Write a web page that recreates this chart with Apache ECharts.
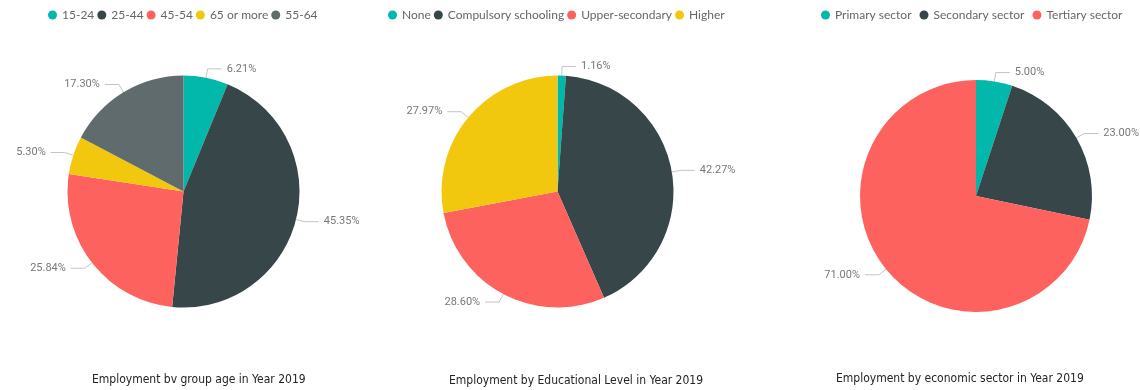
<!DOCTYPE html>
<html>
<head>
<meta charset="utf-8">
<script src="https://cdn.jsdelivr.net/npm/echarts@6/dist/echarts.min.js"></script>
<style>
  html, body { margin: 0; padding: 0; background: #ffffff; }
  #chart { width: 1140px; height: 390px; }
</style>
</head>
<body>
<div id="chart"></div>
<script>
// Employment shares, 2019
const ageGroups = ['15-24', '25-44', '45-54', '65 or more', '55-64'];
const ageShares = [6.21, 45.35, 25.84, 5.30, 17.30];

const educationLevels = ['None', 'Compulsory schooling', 'Upper-secondary', 'Higher'];
const educationShares = [1.16, 42.27, 28.60, 27.97];

const sectors = ['Primary sector', 'Secondary sector', 'Tertiary sector'];
const sectorShares = [5.00, 23.00, 71.00];

const titles = [
  'Employment bv group age in Year 2019',
  'Employment by Educational Level in Year 2019',
  'Employment by economic sector in Year 2019'
];

const palette = ['#01B8AA', '#374649', '#FD625E', '#F2C80F', '#5F6B6D'];
const sectorPalette = ['#01B8AA', '#374649', '#FD625E'];

function toData(names, values, colors) {
  return names.map((n, i) => ({ name: n, value: values[i], itemStyle: { color: colors[i] } }));
}

function pieSeries(names, values, colors, center) {
  return {
    type: 'pie',
    center: center,
    radius: 116,
    startAngle: 90,
    clockwise: true,
    avoidLabelOverlap: true,
    data: toData(names, values, colors),
    label: {
      show: true,
      position: 'outside',
      overflow: 'none',
      color: '#787878',
      fontFamily: 'Roboto',
      fontSize: 11,
      formatter: p => p.value.toFixed(2) + '%'
    },
    labelLine: {
      show: true,
      length: 9,
      length2: 14,
      lineStyle: { color: '#c4c4c4', width: 1 }
    },
    emphasis: { disabled: true }
  };
}

const legendText = { color: '#666666', fontFamily: 'Lato', fontSize: 12 };

const option = {
  backgroundColor: '#ffffff',
  animation: false,
  title: [
    { text: titles[0], left: 92, top: 374 },
    { text: titles[1], left: 449, top: 375 },
    { text: titles[2], left: 836, top: 373 }
  ].map(t => Object.assign(t, {
    padding: 0,
    textStyle: {
      fontFamily: "'DejaVu Sans Condensed', 'Liberation Sans Narrow', 'Liberation Sans', sans-serif",
      fontSize: 12,
      fontWeight: 'normal',
      color: '#252423'
    }
  })),
  legend: [
    { data: ageGroups, left: 48, itemGap: 3 },
    { data: educationLevels, left: 388, itemGap: 3 },
    { data: sectors, left: 821, itemGap: 8 }
  ].map(l => Object.assign(l, {
    top: 9,
    padding: 0,
    icon: 'circle',
    itemWidth: 9,
    itemHeight: 9,
    selectedMode: false,
    textStyle: legendText
  })),
  series: [
    pieSeries(ageGroups, ageShares, palette, [183.5, 191.5]),
    pieSeries(educationLevels, educationShares, palette, [557.5, 191.5]),
    pieSeries(sectors, sectorShares, sectorPalette, [976, 196])
  ]
};

const chart = echarts.init(document.getElementById('chart'), null, { renderer: 'canvas' });
chart.setOption(option);
</script>
</body>
</html>
